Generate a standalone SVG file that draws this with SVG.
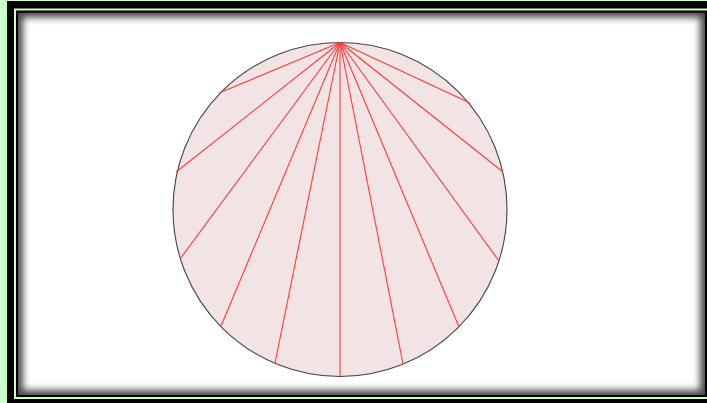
<svg xmlns="http://www.w3.org/2000/svg" width="707" height="403" viewBox="0 0 707 403">
<style>
.ray{stroke:#ff3b3b;stroke-width:1.1;fill:none}
</style>
<defs>
<clipPath id="inner"><rect x="18" y="12.5" width="687" height="382.5"/></clipPath>
<filter id="blur" x="-5%" y="-5%" width="110%" height="110%"><feGaussianBlur stdDeviation="3.5"/></filter>
</defs>
<g id="frame">
<rect x="0" y="0" width="707" height="403" fill="#ccffcc"/>
<rect x="7" y="1" width="720" height="420" fill="#000"/>
<rect x="15" y="9.5" width="693" height="388.5" fill="none" stroke="#ccffcc" stroke-width="2"/>
<g clip-path="url(#inner)">
<rect x="18" y="12.5" width="687" height="382.5" fill="#4a4a4a"/>
<rect x="23" y="17.5" width="677" height="372.5" fill="#fff" filter="url(#blur)"/>
</g>
</g>
<g id="circle">
<circle cx="340" cy="209.5" r="167" fill="#f2e4e4" stroke="#444" stroke-width="1.1"/>
</g>
<g id="connectors">
<line class="ray" x1="340" y1="42.5" x2="219" y2="93"/>
<line class="ray" x1="340" y1="42.5" x2="176" y2="172"/>
<line class="ray" x1="340" y1="42.5" x2="180" y2="259"/>
<line class="ray" x1="340" y1="42.5" x2="221" y2="326"/>
<line class="ray" x1="340" y1="42.5" x2="275" y2="363"/>
<line class="ray" x1="340" y1="42.5" x2="340" y2="376"/>
<line class="ray" x1="340" y1="42.5" x2="403" y2="364"/>
<line class="ray" x1="340" y1="42.5" x2="459" y2="327"/>
<line class="ray" x1="340" y1="42.5" x2="499" y2="261"/>
<line class="ray" x1="340" y1="42.5" x2="503" y2="172"/>
<line class="ray" x1="340" y1="42.5" x2="470" y2="103"/>
</g>
</svg>
